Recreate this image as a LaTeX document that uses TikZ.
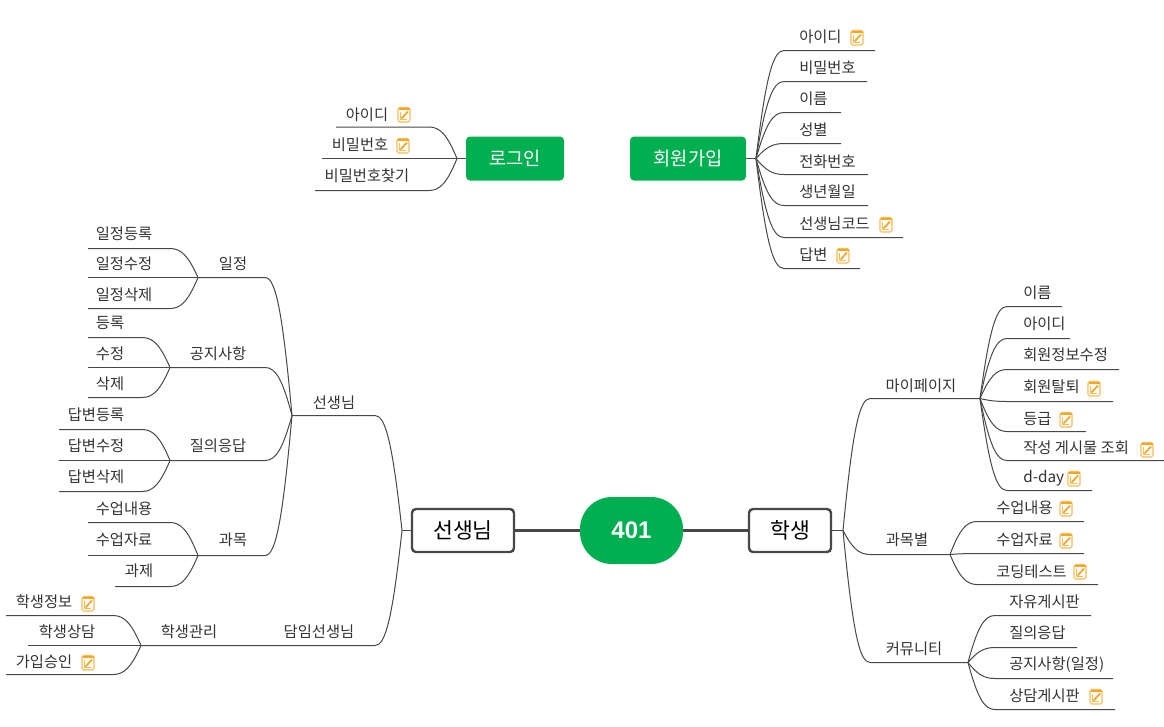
\documentclass[tikz,border=0pt]{standalone}
\usepackage{fontspec}
\setmainfont{Noto Sans CJK KR}
\newfontfamily\numfont{Liberation Sans}
\usetikzlibrary{calc}

\definecolor{mapgreen}{HTML}{00AF50}
\definecolor{mapline}{HTML}{484848}
\definecolor{maptext}{HTML}{333333}
\definecolor{iconorange}{HTML}{F5A623}

\tikzset{
  link/.style={draw=mapline, line width=0.75pt},
  trunk/.style={draw=mapline, line width=2.4pt},
  topicbox/.style={draw=none, fill=mapgreen, rounded corners=3pt, text=white, font=\fontsize{14}{16}\selectfont, inner sep=0pt},
  whitebox/.style={draw=mapline, line width=1.8pt, fill=white, rounded corners=3pt, text=black, font=\fontsize{16.2}{18}\selectfont, inner sep=0pt},
  leaf/.style={text=maptext, font=\fontsize{11.5}{13}\selectfont, inner sep=0pt},
  pics/noteicon/.style={code={
    \draw[iconorange!75, line width=0.8pt, fill=white, rounded corners=1.2pt] (-6,-7.5) rectangle (6,7);
    \fill[iconorange] (-5.5,-7.5) rectangle (5.5,-5);
    \draw[iconorange, line width=1.3pt] (-2.5,3.5) -- (4,-3.5);
    \draw[iconorange!75, line width=0.5pt] (-3.5,-3) -- (-3.5,4.5) -- (2.5,4.5);
  }}
}

% hub, sideways run of the bend in px, anchor of the text, then name/y/end x/text x/text y/text
\newcommand{\grow}[4]{%
  \foreach \nm/\ly/\lx/\tx/\ty/\txt in {#4} {
    \coordinate (\nm) at (\lx,\ly);
    \node[leaf, anchor=#3] (\nm text) at (\tx,\ty+1) {\txt};
    \draw[link] let \p1=(#1), \p2=(\nm) in
      (\p1) .. controls ({\x1+.35*#2*.75pt},{\y1+.75*(\y2-\y1)}) and ({\x1+.6*#2*.75pt},\y2) .. ({\x1+#2*.75pt},\y2) -- (\p2);
  }
}

\begin{document}
\begin{tikzpicture}[x=0.75pt, y=-0.75pt]
\useasboundingbox (0,0) rectangle (1164,726);

% center
\node[fill=mapgreen, minimum width=77.25pt, minimum height=50.25pt, rounded corners=24pt, text=white, inner sep=0pt, font=\numfont\bfseries\fontsize{18}{20}\selectfont] (center) at (631.5,530.5) {401};
\node[whitebox, minimum width=76.5pt, minimum height=32.25pt] (teacher) at (463,530.5) {선생님};
\node[whitebox, minimum width=61.5pt, minimum height=32.25pt] (student) at (790,530.5) {학생};
\draw[trunk] (center) -- (teacher);
\draw[trunk] (center) -- (student);

% top boxes
\node[topicbox, minimum width=73.5pt, minimum height=33pt] (login) at (515,158.5) {로그인};
\node[topicbox, minimum width=87pt, minimum height=33pt] (signup) at (688,158.5) {회원가입};
\coordinate (loginhub) at (457,158.5);
\coordinate (signuphub) at (756,158.5);
\coordinate (teacherhub) at (402,530.5);
\coordinate (studenthub) at (843,530.5);
\draw[link] (login) -- (loginhub);
\draw[link] (signup) -- (signuphub);
\draw[link] (teacher) -- (teacherhub);
\draw[link] (student) -- (studenthub);

% login
\grow{loginhub}{-28}{center}{
  loginid/127/336/367/114/아이디,
  loginpw/158.5/322/360/144/비밀번호,
  loginfind/190.5/315/367/175/비밀번호찾기}

% signup
\grow{signuphub}{28}{west}{
  joinid/50.5/875/799/36/아이디,
  joinpw/81.5/867/799/67/비밀번호,
  joinname/112.5/841/799/98/이름,
  joinsex/143.5/841/799/129/성별,
  joinphone/174.5/868/799/161/전화번호,
  joinbirth/205.5/868/799/191/생년월일,
  joincode/237.5/903/799/223/선생님코드,
  joinanswer/268.5/860/799/254/답변}

% teacher side
\grow{teacherhub}{-27}{center}{
  tclass/415.5/292/334/402/선생님,
  thome/645.5/141/319/631/담임선생님}
\node[leaf] (thomelabel) at (189,632) {학생관리};
\grow{tclass}{-27}{center}{
  tplan/277.5/198/233/263/일정,
  tnotice/367.5/170/218/353/공지사항,
  tqna/460.5/170/218/445/질의응답,
  tsubject/555.5/198/233/539/과목}
\grow{tplan}{-28}{center}{
  planadd/248.5/88/124/233/일정등록,
  planedit/277.5/88/124/263/일정수정,
  plandel/308.5/88/124/294/일정삭제}
\grow{tnotice}{-28}{center}{
  noticeadd/337.5/88/110/322/등록,
  noticeedit/367.5/88/110/353/수정,
  noticedel/397.5/88/110/383/삭제}
\grow{tqna}{-28}{center}{
  qnaadd/429.5/59/96/414/답변등록,
  qnaedit/460.5/59/96/445/답변수정,
  qnadel/491.5/59/96/476/답변삭제}
\grow{tsubject}{-28}{center}{
  subcontent/522.5/88/124/508/수업내용,
  subdata/555.5/88/124/539/수업자료,
  subtask/586.5/115/139/570/과제}
\grow{thome}{-28}{center}{
  homeinfo/615.5/6/44/601/학생정보,
  homecounsel/645.5/28/67/631/학생상담,
  homeok/674.5/6/44/661/가입승인}

% student side
\grow{studenthub}{27}{center}{
  smypage/398.5/980/921/385/마이페이지,
  ssubject/554.5/950/907/539/과목별,
  scommunity/662.5/968/914/648/커뮤니티}
\grow{smypage}{27}{west}{
  myname/306.5/1062/1023/292/이름,
  myid/338.5/1070/1023/323/아이디,
  myedit/369.5/1119/1023/354/회원정보수정,
  myleave/401.5/1113/1023/386/회원탈퇴,
  mygrade/431.5/1086/1023/418/등급,
  myposts/460.5/1164/1023/447/{작성 게시물 조회},
  mydday/490.5/1092/1023/477/d-day}
\grow{ssubject}{27}{west}{
  scontent/521.5/1084/996/507/수업내용,
  sdata/553.5/1084/996/539/수업자료,
  scoding/584.5/1098/996/571/코딩테스트}
\grow{scommunity}{27}{west}{
  cfree/615.5/1091/1009/601/자유게시판,
  cqna/647.5/1077/1009/632/질의응답,
  cnotice/678.5/1113/1009/664/공지사항(일정),
  ccounsel/709.5/1115/1009/695/상담게시판}

% note icons
\foreach \ix/\iy in {404/115, 403/146, 857/38, 886/225, 843/256, 88/604, 88/663,
  1094/389, 1066/420, 1147/450, 1074/479, 1066/509, 1066/541, 1080/572, 1096/697}
  \pic at (\ix,\iy) {noteicon};
\end{tikzpicture}
\end{document}
